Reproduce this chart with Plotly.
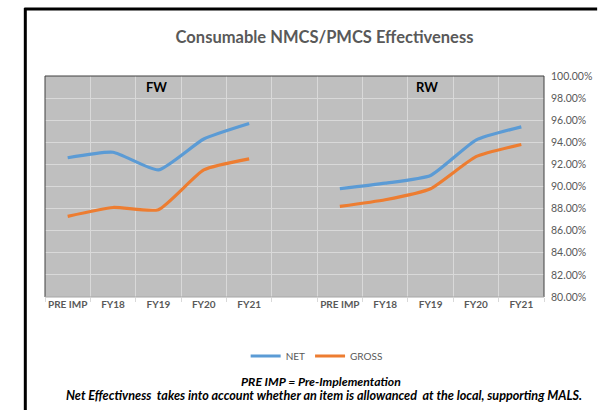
import plotly.graph_objects as go

categories = ["PRE IMP", "FY18", "FY19", "FY20", "FY21", "", "PRE IMP", "FY18", "FY19", "FY20", "FY21"]
net = [92.6, 93.1, 91.5, 94.3, 95.7, None, 89.8, 90.3, 91.0, 94.2, 95.4]
gross = [87.3, 88.1, 87.9, 91.5, 92.5, None, 88.2, 88.8, 89.8, 92.7, 93.8]
y_ticks = [80, 82, 84, 86, 88, 90, 92, 94, 96, 98, 100]
y_ticktext = [f"{v:.2f}%" for v in y_ticks]

FONT = "Lato, Open Sans, sans-serif"
GREY = "#595959"
GRID = "#D9D9D9"

xs = list(range(len(categories)))
fig = go.Figure()
fig.add_trace(go.Scatter(x=xs, y=net, mode="lines", name="NET",
                         line=dict(color="#5B9BD5", width=3.2, shape="spline", smoothing=0.5),
                         connectgaps=False))
fig.add_trace(go.Scatter(x=xs, y=gross, mode="lines", name="GROSS",
                         line=dict(color="#ED7D31", width=3.2, shape="spline", smoothing=0.5),
                         connectgaps=False))

L, R, T, B = 45, 52, 76, 113
W, H = 604, 410
pw, ph = W - L - R, H - T - B

def px(x):
    return (x - L) / pw

def py(y):
    return (H - B - y) / ph

fig.update_layout(
    width=W, height=H,
    margin=dict(l=L, r=R, t=T, b=B),
    paper_bgcolor="white",
    plot_bgcolor="#BFBFBF",
    font=dict(family=FONT, color=GREY, size=10),
    title=dict(text="<b>Consumable NMCS/PMCS Effectiveness</b>", x=px(329), xref="paper",
               xanchor="center", y=1 - 37 / H, yanchor="middle",
               font=dict(family=FONT, size=16.5, color=GREY)),
    showlegend=True,
    legend=dict(orientation="h", x=px(321), xanchor="center", y=py(356), yanchor="middle",
                font=dict(family=FONT, size=10, color=GREY), bgcolor="rgba(0,0,0,0)"),
    xaxis=dict(range=[-0.5, len(categories) - 0.5], tickmode="array", tickvals=xs,
               ticktext=[f"<b>{c}</b>" if c else "" for c in categories],
               showgrid=False, zeroline=False, ticks="",
               tickfont=dict(family=FONT, size=10, color=GREY),
               showline=False,
               minor=dict(tickmode="array", tickvals=[i + 0.5 for i in range(-1, len(categories))],
                          showgrid=True, gridcolor=GRID, gridwidth=1,
                          ticks="outside", ticklen=4, tickcolor=GRID)),
    yaxis=dict(range=[80, 100], side="right", tickmode="array", tickvals=y_ticks,
               ticktext=y_ticktext, showgrid=True, gridcolor=GRID, gridwidth=1,
               zeroline=False, showline=False, ticklabelstandoff=6,
               tickfont=dict(family=FONT, size=10.5, color=GREY)),
)

def note(text, x, y, size, color="black"):
    fig.add_annotation(text=text, x=px(x), y=py(y), xref="paper", yref="paper",
                       xanchor="center", yanchor="middle", showarrow=False,
                       font=dict(family=FONT, size=size, color=color))

note("<b>FW</b>", 158, 87, 13)
note("<b>RW</b>", 433, 87, 13)
note("<b><i>PRE IMP = Pre-Implementation</i></b>", 325, 381, 12.2)
note("<b><i>Net Effectivness  takes into account whether an item is allowanced  at the local, supporting MALS.</i></b>",
     328, 395, 12.6)

# outer frame (screenshot border)
fig.add_shape(type="line", xref="paper", yref="paper", x0=px(25), x1=px(25), y0=py(8), y1=py(412),
              line=dict(color="black", width=3))
fig.add_shape(type="line", xref="paper", yref="paper", x0=px(24), x1=px(606), y0=py(9), y1=py(9),
              line=dict(color="black", width=3))
# plot frame: dark top/left/right, light bottom
for (x0, y0, x1, y1, c) in [(0, 1, 1, 1, "#404040"), (0, 0, 0, 1, "#404040"),
                            (1, 0, 1, 1, "#404040"), (0, 0, 1, 0, "#A6A6A6")]:
    fig.add_shape(type="line", xref="paper", yref="paper", x0=x0, y0=y0, x1=x1, y1=y1,
                  line=dict(color=c, width=1), layer="above")

fig.write_html("out.html", config={"displayModeBar": False},
               post_script="document.body.style.margin='0px';document.body.style.overflow='hidden';")
